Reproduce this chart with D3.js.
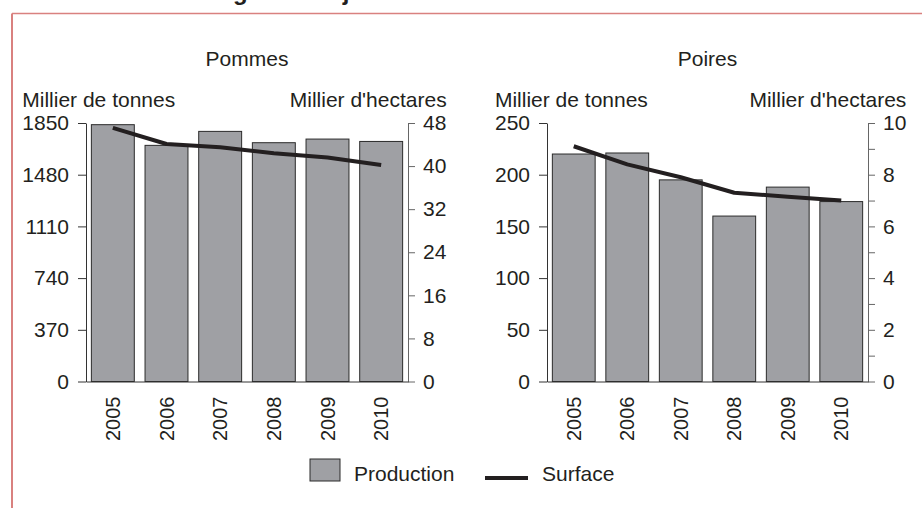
<!DOCTYPE html>
<html>
<head>
<meta charset="utf-8">
<script src="https://cdnjs.cloudflare.com/ajax/libs/d3/7.8.5/d3.min.js"></script>
<style>
  body { margin: 0; background: #fff; }
  svg { display: block; font-family: Arial, "Liberation Sans", sans-serif; }
  .axis text { font-size: 21px; fill: #231f20; }
  .axis path, .axis line { stroke: #333; }
  .axis-right path, .axis-right line { stroke: #666; }
  .year text { font-size: 20px; }
  .lbl { font-size: 21px; fill: #231f20; }
</style>
</head>
<body>
<div id="chart"></div>
<script>
const years = ["2005", "2006", "2007", "2008", "2009", "2010"];

// Pommes : production (milliers de tonnes) et surface (milliers d'hectares)
const pommesProduction = [1838, 1690, 1790, 1709, 1735, 1718];
const pommesSurface = [47.1, 44.1, 43.5, 42.4, 41.6, 40.2];
const pommesLeftTicks = [0, 370, 740, 1110, 1480, 1850];
const pommesRightTicks = [0, 8, 16, 24, 32, 40, 48];

// Poires
const poiresProduction = [220, 221, 195, 160, 188, 174];
const poiresSurface = [9.1, 8.4, 7.9, 7.3, 7.15, 7.0];
const poiresLeftTicks = [0, 50, 100, 150, 200, 250];
const poiresRightTicks = [0, 1, 2, 3, 4, 5, 6, 7, 8, 9, 10];

const legendItems = ["Production", "Surface"];

const W = 922, H = 508;
const BAR = "#9fa0a4", INK = "#231f20";

const svg = d3.select('#chart')
  .append('svg')
  .attr('width', W)
  .attr('height', H);

// frame (red, partly cut off like the source)
svg.append('line').attr('x1', 12).attr('x2', W).attr('y1', 13.5).attr('y2', 13.5)
  .attr('stroke', '#d9817f').attr('stroke-width', 1.6);
svg.append('line').attr('x1', 12).attr('x2', 12).attr('y1', 13.5).attr('y2', H)
  .attr('stroke', '#d9817f').attr('stroke-width', 2);

// heading, only the descenders survive the crop
svg.append('text')
  .attr('x', 45).attr('y', -0.5)
  .attr('font-size', 24).attr('font-weight', 'bold').attr('fill', INK)
  .text("Évolution du verger en Anjou");

const panels = [
  { title: "Pommes", prod: pommesProduction, surf: pommesSurface,
    left: pommesLeftTicks, right: pommesRightTicks, x0: 86, x1: 408 },
  { title: "Poires", prod: poiresProduction, surf: poiresSurface,
    left: poiresLeftTicks, right: poiresRightTicks, x0: 547, x1: 868 }
];

const Y0 = 381.5, Y1 = 123;

panels.forEach(p => {
  const g = svg.append('g');

  const x = d3.scaleBand()
    .domain(years)
    .range([p.x0, p.x1])
    .paddingInner(0.2)
    .paddingOuter(0.1);

  const yL = d3.scaleLinear().domain([0, d3.max(p.left)]).range([Y0, Y1]);
  const yR = d3.scaleLinear().domain([0, d3.max(p.right)]).range([Y0, Y1]);

  // bars
  g.selectAll('.bar')
    .data(p.prod)
    .enter()
    .append('rect')
    .attr('x', (d, i) => x(years[i]))
    .attr('y', d => yL(d))
    .attr('width', x.bandwidth())
    .attr('height', d => Y0 - yL(d))
    .attr('fill', BAR)
    .attr('stroke', '#2b2b2b')
    .attr('stroke-width', 1);

  // axes
  const la = g.append('g')
    .attr('class', 'axis')
    .attr('transform', `translate(${p.x0},0)`)
    .call(d3.axisLeft(yL).tickValues(p.left).tickSizeInner(8).tickSizeOuter(0).tickPadding(9)
      .tickFormat(d3.format('d')));

  const step = p.right[1] - p.right[0];
  const ra = g.append('g')
    .attr('class', 'axis axis-right')
    .attr('transform', `translate(${p.x1},0)`)
    .call(d3.axisRight(yR).tickValues(p.right).tickSizeInner(7).tickSizeOuter(0).tickPadding(8)
      .tickFormat(d => (step === 1 && d % 2) ? "" : d));

  const xa = g.append('g')
    .attr('class', 'axis year')
    .attr('transform', `translate(0,${Y0})`)
    .call(d3.axisBottom(x).tickSize(0).tickSizeOuter(0).tickPadding(0));
  xa.selectAll('text')
    .attr('y', 0)
    .attr('dy', '0.35em')
    .attr('text-anchor', 'end')
    .attr('transform', 'translate(0,15) rotate(-90)');

  // surface line
  const line = d3.line()
    .x((d, i) => x(years[i]) + x.bandwidth() / 2)
    .y(d => yR(d));

  g.append('path')
    .datum(p.surf)
    .attr('d', line)
    .attr('fill', 'none')
    .attr('stroke', INK)
    .attr('stroke-width', 4)
    .attr('stroke-linejoin', 'round');

  // titles
  g.append('text')
    .attr('class', 'lbl')
    .attr('x', (p.x0 + p.x1) / 2)
    .attr('y', 65.5)
    .attr('text-anchor', 'middle')
    .text(p.title);

  const lMin = d3.min(la.selectAll('text').nodes(), n => n.getBBox().x) + p.x0;
  const rMax = d3.max(ra.selectAll('text').nodes(), n => { const b = n.getBBox(); return b.x + b.width; }) + p.x1;

  g.append('text')
    .attr('class', 'lbl')
    .attr('x', lMin)
    .attr('y', 106.5)
    .text("Millier de tonnes");

  g.append('text')
    .attr('class', 'lbl')
    .attr('x', rMax)
    .attr('y', 106.5)
    .attr('text-anchor', 'end')
    .text("Millier d'hectares");
});

// legend
const lg = svg.append('g');
lg.append('rect')
  .attr('x', 310).attr('y', 459).attr('width', 30).attr('height', 22)
  .attr('fill', BAR).attr('stroke', '#2b2b2b').attr('stroke-width', 1);
lg.append('text').attr('class', 'lbl').attr('x', 354).attr('y', 481).text(legendItems[0]);
lg.append('line')
  .attr('x1', 485).attr('x2', 528).attr('y1', 478).attr('y2', 478)
  .attr('stroke', INK).attr('stroke-width', 4);
lg.append('text').attr('class', 'lbl').attr('x', 542).attr('y', 481).text(legendItems[1]);
</script>
</body>
</html>
